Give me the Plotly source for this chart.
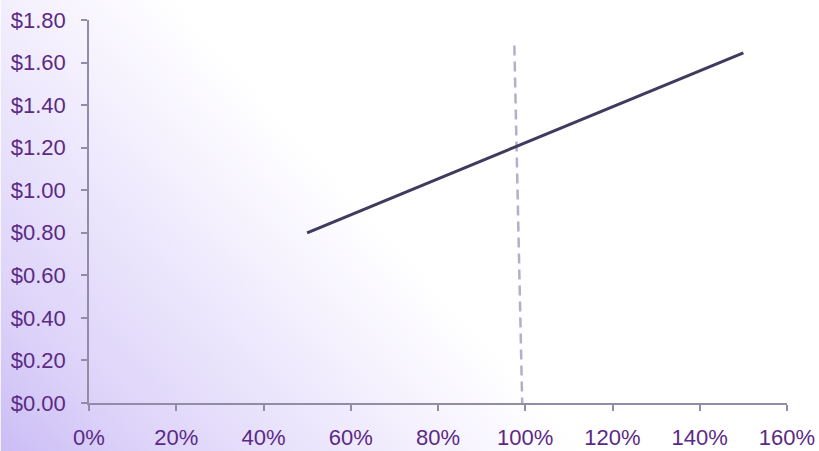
import base64
import plotly.graph_objects as go

# Price curve (x = volume as share of plan, y = unit price)
curve_x = [0.50, 1.50]
curve_y = [0.80, 1.645]

# Reference marker near 100%
marker_x = [0.975, 0.993]
marker_y = [1.68, 0.0]

x_ticks = [0, 0.2, 0.4, 0.6, 0.8, 1.0, 1.2, 1.4, 1.6]
x_labels = ["0%", "20%", "40%", "60%", "80%", "100%", "120%", "140%", "160%"]
y_ticks = [0, 0.2, 0.4, 0.6, 0.8, 1.0, 1.2, 1.4, 1.6, 1.8]
y_labels = ["$0.00", "$0.20", "$0.40", "$0.60", "$0.80",
            "$1.00", "$1.20", "$1.40", "$1.60", "$1.80"]

W, H = 819, 451
ML, MR, MT, MB = 88.5, 32.3, 20, 48.3
pw, ph = W - ML - MR, H - MT - MB

# soft lavender wash rising from the lower-left corner
svg = f"""<svg xmlns='http://www.w3.org/2000/svg' width='{W}' height='{H}'>
<defs>
<linearGradient id='g' gradientUnits='userSpaceOnUse' x1='0' y1='{H}' x2='320' y2='160'>
<stop offset='0' stop-color='#cbbdf5'/>
<stop offset='0.25' stop-color='#ddd3f9'/>
<stop offset='0.55' stop-color='#ebe5fc'/>
<stop offset='0.8' stop-color='#f7f4fe'/>
<stop offset='1' stop-color='#ffffff'/>
</linearGradient>
</defs>
<rect width='{W}' height='{H}' fill='url(#g)'/>
</svg>"""
bg_uri = "data:image/svg+xml;base64," + base64.b64encode(svg.encode()).decode()

fig = go.Figure()
fig.add_trace(go.Scatter(
    x=marker_x, y=marker_y, mode="lines",
    line=dict(color="#b3aecb", width=2.5, dash="10px,6px"),
    hoverinfo="skip", showlegend=False,
))
fig.add_trace(go.Scatter(
    x=curve_x, y=curve_y, mode="lines",
    line=dict(color="#3f3a5e", width=3),
    hoverinfo="skip", showlegend=False,
))

fig.add_layout_image(dict(
    source=bg_uri, xref="paper", yref="paper",
    x=-ML / pw, y=1 + MT / ph, sizex=W / pw, sizey=H / ph,
    sizing="stretch", xanchor="left", yanchor="top", layer="below",
))

font = dict(family="Liberation Sans, Arial, sans-serif", size=22, color="#5b2a86")
axis_common = dict(
    showgrid=False, zeroline=False, showline=True, automargin=False,
    linecolor="#938ca6", linewidth=1.5,
    ticks="outside", ticklen=6, tickwidth=1.5, tickcolor="#938ca6",
    tickfont=font,
)
fig.update_xaxes(range=[0, 1.6], tickmode="array", tickvals=x_ticks, ticktext=x_labels,
                 ticklabelstandoff=8, **axis_common)
fig.update_yaxes(range=[0, 1.8], tickmode="array", tickvals=y_ticks, ticktext=y_labels,
                 ticklabelstandoff=11, **axis_common)

fig.update_layout(
    width=W, height=H,
    margin=dict(l=ML, r=MR, t=MT, b=MB, pad=0),
    paper_bgcolor="white", plot_bgcolor="rgba(0,0,0,0)",
    showlegend=False,
)

fig.write_html("out.html")
